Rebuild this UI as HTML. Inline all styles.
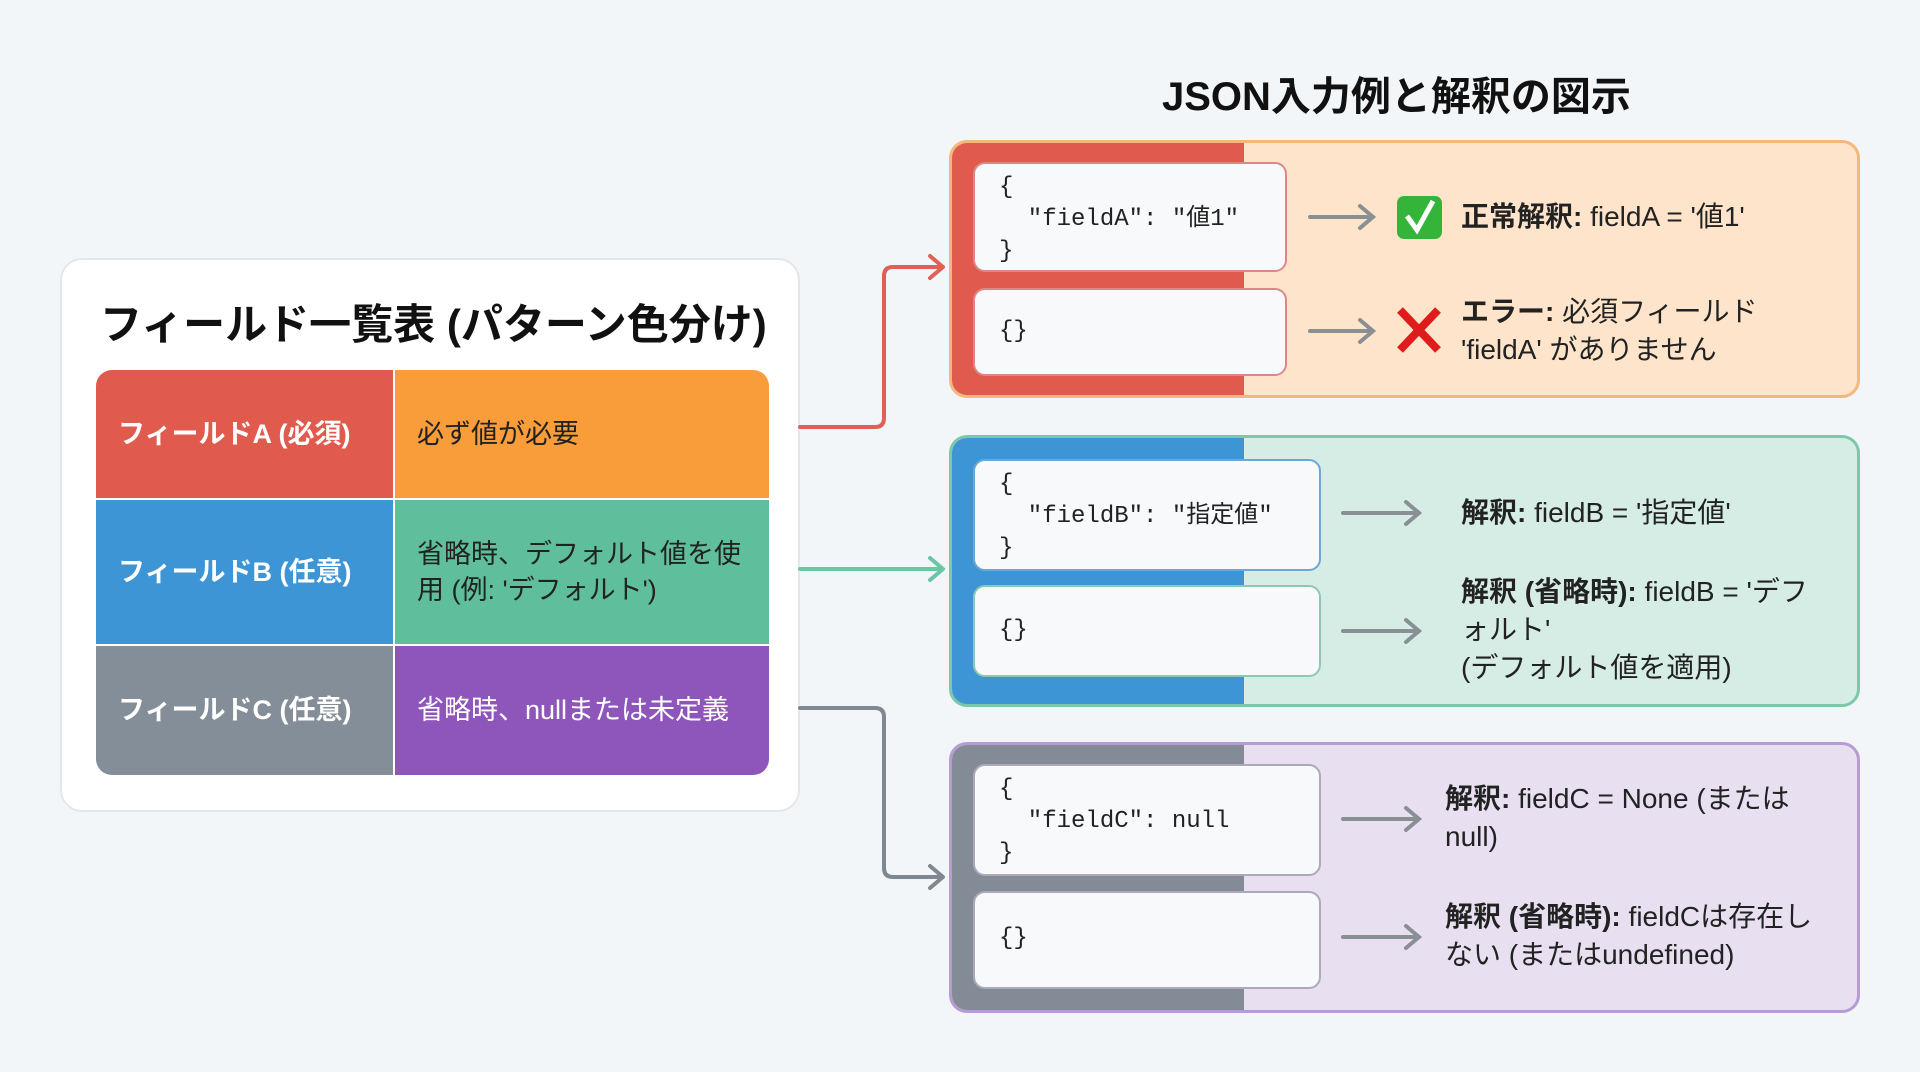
<!DOCTYPE html>
<html><head><meta charset="utf-8"><style>
*{margin:0;padding:0;box-sizing:border-box}
body{width:1920px;height:1072px;background:#f2f6f8;position:relative;overflow:hidden;font-family:"Liberation Sans","Noto Sans CJK JP",sans-serif;color:#222}
.abs{position:absolute}
.panel{left:60px;top:258px;width:740px;height:554px;background:#fff;border:2px solid #e3e7ea;border-radius:22px}
.cell{position:absolute;display:flex;align-items:center;font-size:27px;padding-left:22px;line-height:1.35}
.box{position:absolute;border-radius:18px;overflow:hidden;border:3px solid}
.strip{position:absolute;left:0;top:0;bottom:0;width:292px}
.code{position:absolute;background:#f7f9fa;border-radius:12px;border:2px solid;font-family:"Liberation Mono","Noto Sans CJK JP",monospace;font-size:24px;line-height:32px;padding:8px 0 0 24px;white-space:pre;color:#222}
.txt{position:absolute;font-size:28px;line-height:38px;color:#222}
.arr{position:absolute}
</style></head><body>
<div class="abs panel"></div>
<div class="abs" style="left:100px;top:291px;font-size:42px;font-weight:bold;color:#111">フィールド一覧表 (パターン色分け)</div>
<div class="abs" style="left:96px;top:370px;width:673px;height:405px;border-radius:16px;overflow:hidden">
 <div class="cell" style="left:0;top:0;width:297px;height:128px;background:#e05a4e;color:#fff;font-weight:bold">フィールドA (必須)</div>
 <div class="cell" style="left:299px;top:0;width:374px;height:128px;background:#f99d3a">必ず値が必要</div>
 <div class="cell" style="left:0;top:130px;width:297px;height:144px;background:#3d95d5;color:#fff;font-weight:bold">フィールドB (任意)</div>
 <div class="cell" style="left:299px;top:130px;width:374px;height:144px;background:#5fbf9c;padding-right:10px">省略時、デフォルト値を使用 (例: 'デフォルト')</div>
 <div class="cell" style="left:0;top:276px;width:297px;height:129px;background:#848e98;color:#fff;font-weight:bold">フィールドC (任意)</div>
 <div class="cell" style="left:299px;top:276px;width:374px;height:129px;background:#8e56bb;color:#fff">省略時、nullまたは未定義</div>
</div>
<div class="abs" style="left:1162px;top:64px;font-size:40px;font-weight:bold;color:#111">JSON入力例と解釈の図示</div>

<div class="box" style="left:949px;top:140px;width:911px;height:258px;background:#fde4cb;border-color:#f5b77a"><div class="strip" style="background:#e05a4e"></div></div>
<div class="code" style="left:973px;top:162px;width:314px;height:110px;border-color:#d88;">{
  "fieldA": "値1"
}</div>
<div class="code" style="left:973px;top:288px;width:314px;height:88px;border-color:#d88;padding-top:26px">{}</div>

<div class="box" style="left:949px;top:435px;width:911px;height:272px;background:#d5ede4;border-color:#7cc9aa"><div class="strip" style="background:#3d95d5"></div></div>
<div class="code" style="left:973px;top:459px;width:348px;height:112px;border-color:#6aa8d8">{
  "fieldB": "指定値"
}</div>
<div class="code" style="left:973px;top:585px;width:348px;height:92px;border-color:#8cc9b3;padding-top:28px">{}</div>

<div class="box" style="left:949px;top:742px;width:911px;height:271px;background:#e8dff0;border-color:#b99bd4"><div class="strip" style="background:#838c96"></div></div>
<div class="code" style="left:973px;top:764px;width:348px;height:112px;border-color:#aab">{
  "fieldC": null
}</div>
<div class="code" style="left:973px;top:891px;width:348px;height:98px;border-color:#aab;padding-top:30px">{}</div>

<svg class="arr" style="left:0;top:0" width="1920" height="1072">
 <g fill="none" stroke-width="4" stroke-linecap="round" stroke-linejoin="round">
  <path d="M800 427 H875 Q884 427 884 418 V276 Q884 267 893 267 H942" stroke="#e06055"/>
  <path d="M930 256 L943 267 L930 278" stroke="#e06055"/>
  <path d="M800 569 H942" stroke="#6cc5a5"/>
  <path d="M930 558 L943 569 L930 580" stroke="#6cc5a5"/>
  <path d="M800 708 H875 Q884 708 884 717 V868 Q884 877 893 877 H942" stroke="#7f8790"/>
  <path d="M930 866 L943 877 L930 888" stroke="#7f8790"/>
 </g>
 <g fill="none" stroke="#8a8f94" stroke-width="4" stroke-linecap="round">
  <path d="M1310 217 H1372 M1360 206 L1373 217 L1360 228"/>
  <path d="M1310 331 H1372 M1360 320 L1373 331 L1360 342"/>
  <path d="M1343 513 H1418 M1406 502 L1419 513 L1406 524"/>
  <path d="M1343 631 H1418 M1406 620 L1419 631 L1406 642"/>
  <path d="M1343 819 H1418 M1406 808 L1419 819 L1406 830"/>
  <path d="M1343 937 H1418 M1406 926 L1419 937 L1406 948"/>
 </g>
 <rect x="1397" y="196" width="45" height="43" rx="7" fill="#35b43a"/>
 <path d="M1407 216 L1417 230 L1433 201" fill="none" stroke="#fff" stroke-width="5"/>
 <path d="M1400 310 L1438 350 M1438 310 L1400 350" stroke="#e01b1b" stroke-width="8"/>
</svg>

<div class="txt" style="left:1461px;top:198px"><b>正常解釈:</b> fieldA = '値1'</div>
<div class="txt" style="left:1461px;top:293px"><b>エラー:</b> 必須フィールド<br>'fieldA' がありません</div>
<div class="txt" style="left:1461px;top:494px"><b>解釈:</b> fieldB = '指定値'</div>
<div class="txt" style="left:1461px;top:573px;width:370px"><b>解釈 (省略時):</b> fieldB = 'デフォルト'<br>(デフォルト値を適用)</div>
<div class="txt" style="left:1445px;top:780px;width:400px"><b>解釈:</b> fieldC = None (または<br>null)</div>
<div class="txt" style="left:1445px;top:898px;width:400px"><b>解釈 (省略時):</b> fieldCは存在し<br>ない (またはundefined)</div>
</body></html>
